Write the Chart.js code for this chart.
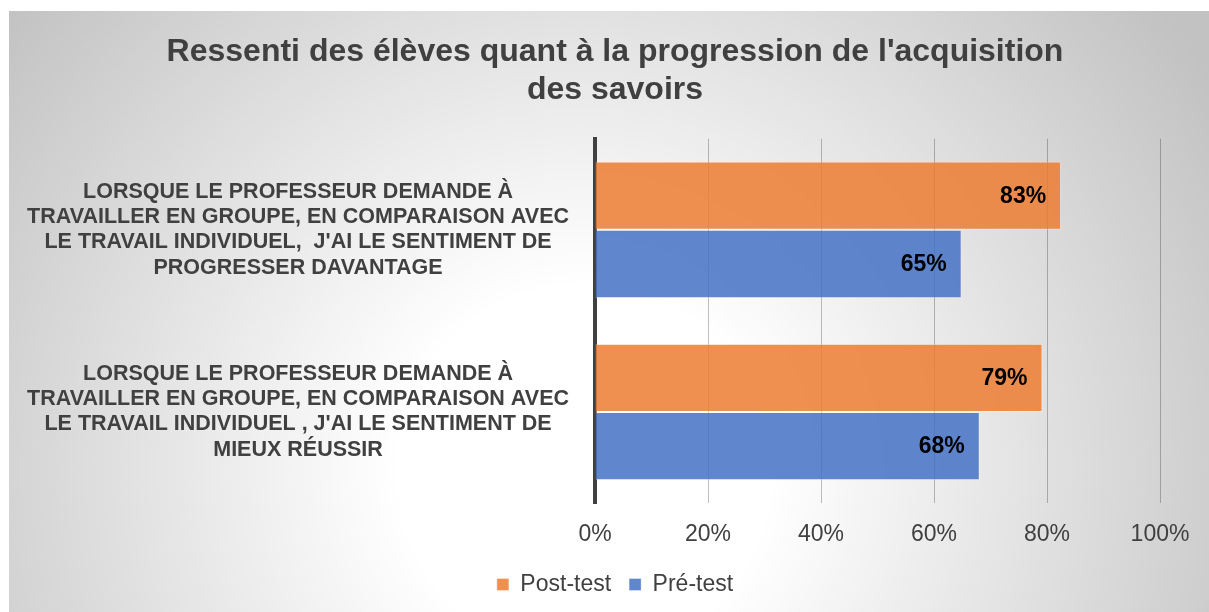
<!DOCTYPE html>
<html>
<head>
<meta charset="utf-8">
<script src="https://cdn.jsdelivr.net/npm/chart.js@4"></script>
<style>
  html, body { margin: 0; padding: 0; background: #fff; }
  #cadre { position: absolute; left: 9px; top: 11px; width: 1200px; height: 601px; }
</style>
</head>
<body>
<div id="cadre"><canvas id="graphique"></canvas></div>
<script>
// données
const categories = [
	["LORSQUE LE PROFESSEUR DEMANDE À", "TRAVAILLER EN GROUPE, EN COMPARAISON AVEC", "LE TRAVAIL INDIVIDUEL,  J'AI LE SENTIMENT DE", "PROGRESSER DAVANTAGE"],
	["LORSQUE LE PROFESSEUR DEMANDE À", "TRAVAILLER EN GROUPE, EN COMPARAISON AVEC", "LE TRAVAIL INDIVIDUEL , J'AI LE SENTIMENT DE", "MIEUX RÉUSSIR"]
];
const postTest = [82.5, 79.2];
const preTest = [64.9, 68.1];
const tickLabels = ["0%", "20%", "40%", "60%", "80%", "100%"];

const police = "'Liberation Sans', Arial, sans-serif";
const gris = "#404040";

// fond en dégradé radial (blanc au centre, gris sur les bords)
const fond = {
	id: "fond",
	beforeDraw: function (chart) {
		const ctx = chart.ctx;
		const g = ctx.createRadialGradient(575, 460, 0, 575, 460, 740);
		g.addColorStop(0, "#ffffff");
		g.addColorStop(0.25, "#ffffff");
		g.addColorStop(1, "#c2c2c2");
		ctx.save();
		ctx.fillStyle = g;
		ctx.fillRect(0, 0, chart.width, chart.height);
		ctx.restore();
	}
};

// étiquettes de valeur au bout des barres
const etiquettes = {
	id: "etiquettes",
	afterDatasetsDraw: function (chart) {
		const ctx = chart.ctx;
		ctx.save();
		ctx.font = "bold 23px " + police;
		ctx.fillStyle = "#000";
		ctx.textAlign = "right";
		ctx.textBaseline = "middle";
		chart.data.datasets.forEach(function (ds, i) {
			chart.getDatasetMeta(i).data.forEach(function (barre, j) {
				ctx.fillText(Math.round(ds.data[j]) + "%", barre.x - 15, barre.y + 1);
			});
		});
		ctx.restore();
	}
};

const ctx = document.getElementById("graphique").getContext("2d");
new Chart(ctx, {
	type: "bar",
	data: {
		labels: categories,
		datasets: [
			{
				label: "Post-test",
				data: postTest,
				backgroundColor: "rgba(237,125,49,0.85)",
				borderColor: "rgba(255,255,255,0.35)",
				borderWidth: 1
			},
			{
				label: "Pré-test",
				data: preTest,
				backgroundColor: "rgba(68,114,196,0.85)",
				borderColor: "rgba(255,255,255,0.35)",
				borderWidth: 1
			}
		]
	},
	options: {
		indexAxis: "y",
		responsive: true,
		maintainAspectRatio: false,
		animation: false,
		categoryPercentage: 0.75,
		barPercentage: 1,
		layout: { padding: { left: 12, right: 0, top: 0, bottom: 6 } },
		scales: {
			x: {
				min: 0,
				max: 100,
				ticks: {
					stepSize: 20,
					padding: 18,
					color: gris,
					font: { family: police, size: 23 },
					callback: function (v, i) { return tickLabels[i]; }
				},
				grid: { color: "rgba(0,0,0,0.25)", lineWidth: 1, drawTicks: false },
				border: { display: false },
				afterFit: function (s) { s.height = 52; }
			},
			y: {
				z: 1,
				ticks: {
					crossAlign: "center",
					padding: 18,
					color: gris,
					font: { family: police, size: 21.5, weight: "bold", lineHeight: 1.17 }
				},
				grid: { display: false },
				border: { display: true, color: gris, width: 4 },
				afterFit: function (s) { s.width = 574; }
			},
			// axe vide à droite pour laisser la marge sans décentrer titre et légende
			y2: {
				type: "category",
				labels: [""],
				position: "right",
				ticks: { display: false },
				grid: { display: false },
				border: { display: false },
				afterFit: function (s) { s.width = 49; }
			}
		},
		plugins: {
			title: {
				display: true,
				text: ["Ressenti des élèves quant à la progression de l'acquisition", "des savoirs"],
				color: gris,
				font: { family: police, size: 32, weight: "bold", lineHeight: 1.2 },
				padding: { top: 22, bottom: 29 }
			},
			legend: {
				position: "bottom",
				labels: {
					boxWidth: 12,
					boxHeight: 12,
					padding: 18,
					color: gris,
					font: { family: police, size: 23 }
				}
			},
			tooltip: { enabled: false }
		}
	},
	plugins: [fond, etiquettes]
});
</script>
</body>
</html>
